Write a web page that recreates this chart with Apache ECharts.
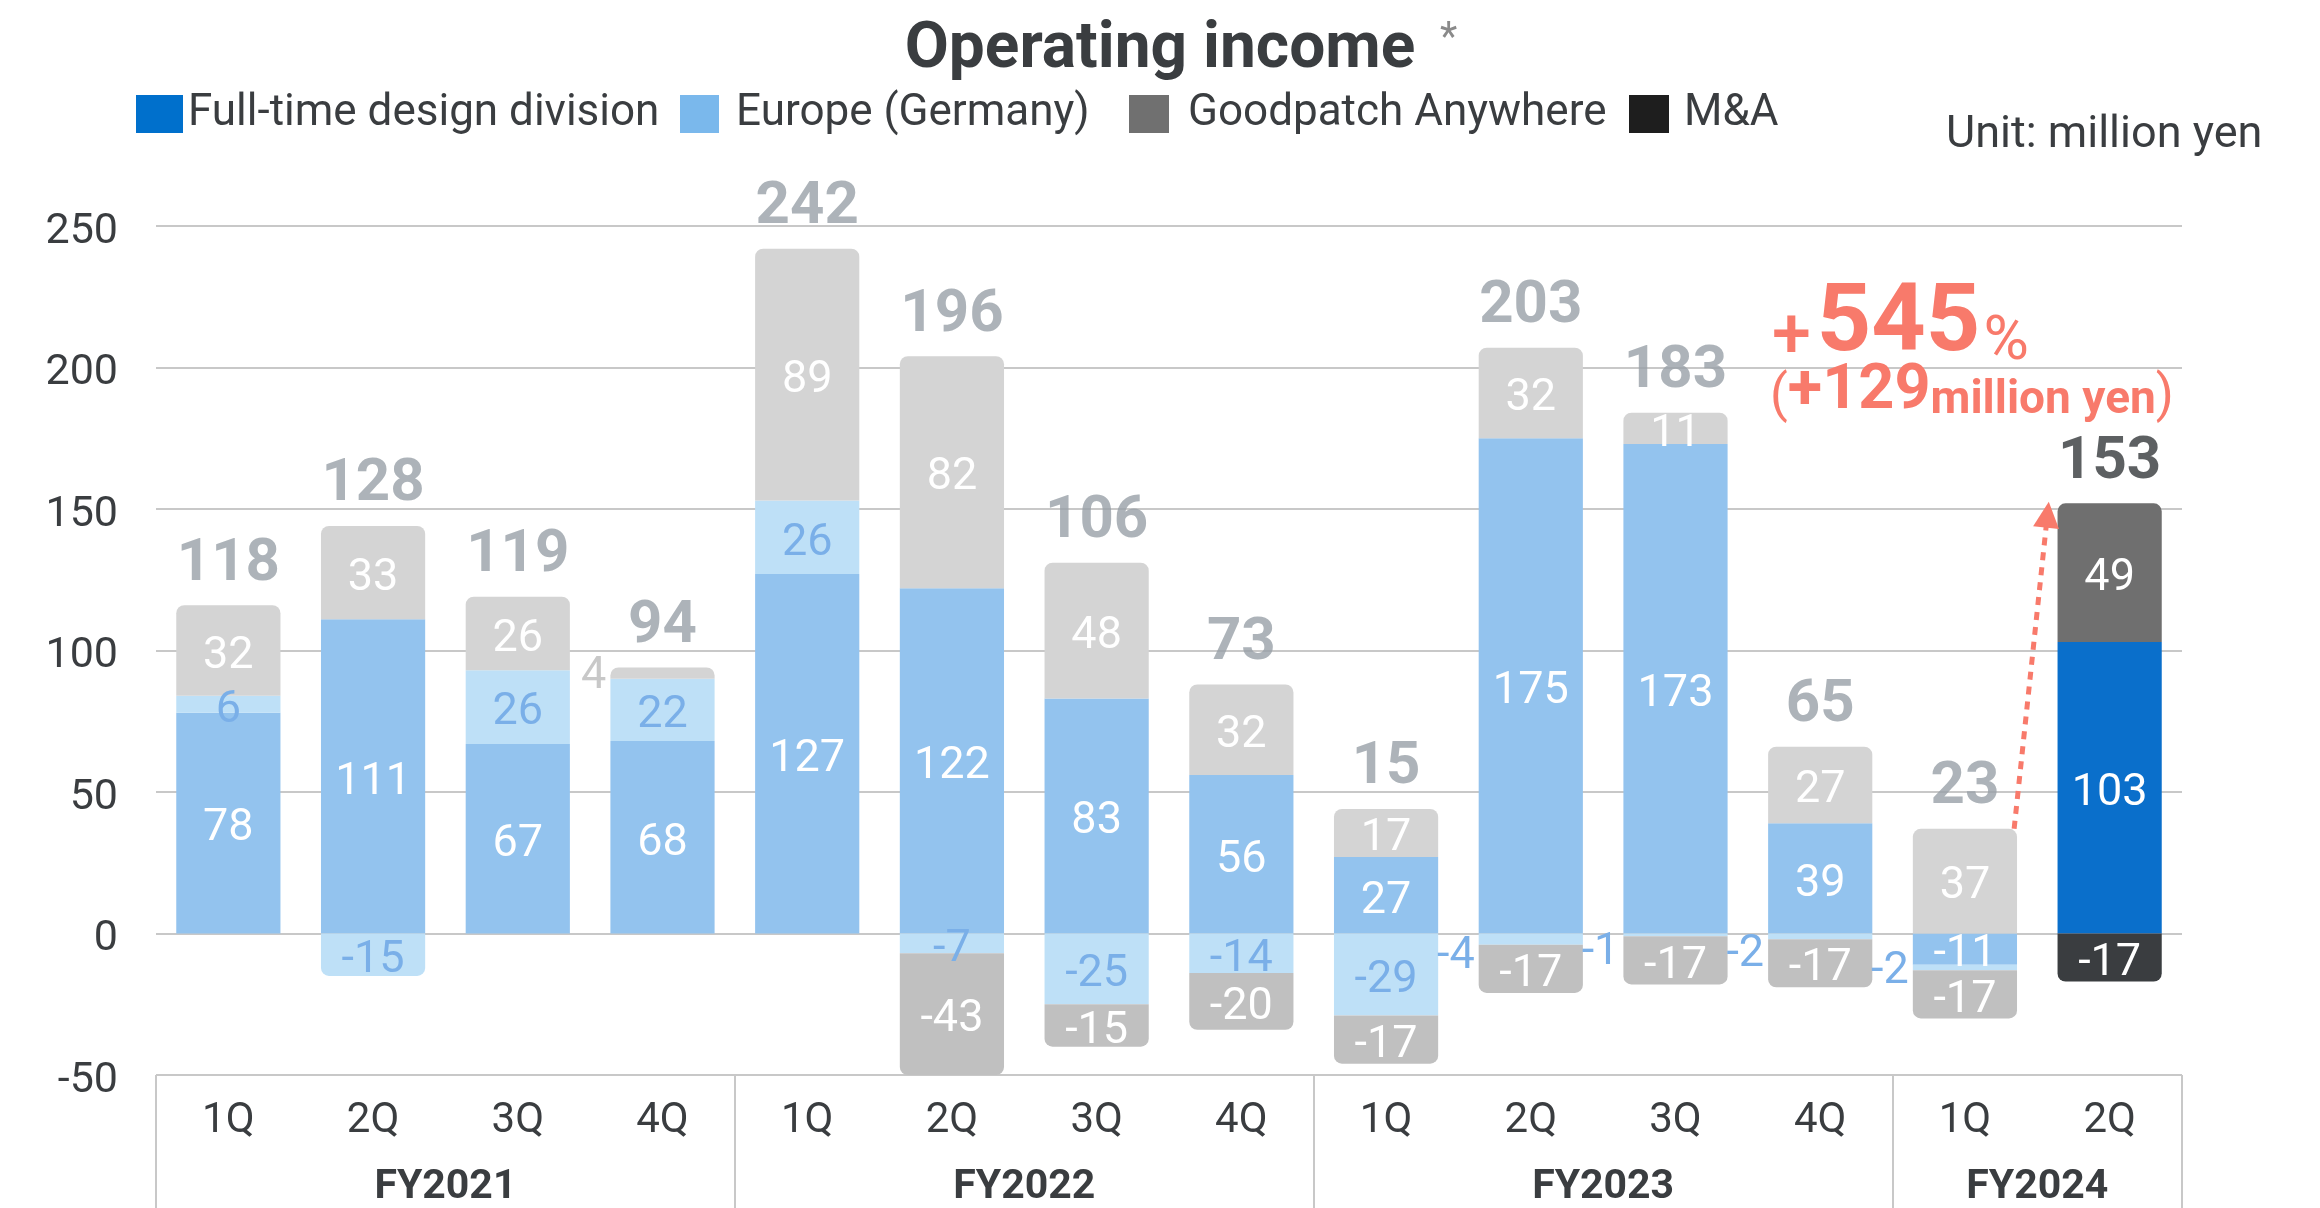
<!DOCTYPE html>
<html>
<head>
<meta charset="utf-8">
<title>Operating income</title>
<script src="https://cdn.jsdelivr.net/npm/echarts@6/dist/echarts.min.js"></script>
<style>
  html, body { margin: 0; padding: 0; background: #fff; }
  #chart { width: 2320px; height: 1208px; }
</style>
</head>
<body>
<div id="chart"></div>
<script>
// quarters on the x axis, grouped by fiscal year
const quarters = ['1Q', '2Q', '3Q', '4Q', '1Q', '2Q', '3Q', '4Q', '1Q', '2Q', '3Q', '4Q', '1Q', '2Q']
const fiscalYears = ['FY2021', 'FY2022', 'FY2023', 'FY2024']
const quartersPerYear = [4, 4, 4, 2]

// segment values (million yen), null = no segment
const fullTime = [78, 111, 67, 68, 127, 122, 83, 56, 27, 175, 173, 39, -11, 103]
const europe = [6, -15, 26, 22, 26, -7, -25, -14, -29, -4, -1, -2, -2, null]
const anywhere = [32, 33, 26, 4, 89, 82, 48, 32, 17, 32, 11, 27, 37, 49]
const mna = [null, null, null, null, null, -43, -15, -20, -17, -17, -17, -17, -17, -17]
const totals = [118, 128, 119, 94, 242, 196, 106, 73, 15, 203, 183, 65, 23, 153]

const seriesNames = ['Full-time design division', 'Europe (Germany)', 'Goodpatch Anywhere', 'M&A']

// growth callout: +545% (+129 million yen), arrow in (quarter position, value)
const growthPct = 545
const growthAmount = 129
const arrowFrom = [12.84, 37]
const arrowTo = [13.07, 148]

const FONT = 'Roboto, "Noto Sans", sans-serif'
const C = {
  text: '#3a3d40',
  grid: '#c8c8c8',
  total: '#99a0a7',
  accent: '#f87a6b'
}

const lastIdx = quarters.length - 1
const stackOrder = [fullTime, europe, anywhere, mna]

const topPositive = i => {
  let k = -1
  stackOrder.forEach((arr, j) => { if (arr[i] > 0) k = j })
  return k
}
const bottomNegative = i => {
  let k = -1
  stackOrder.forEach((arr, j) => { if (arr[i] < 0) k = j })
  return k
}

// fiscal year boundaries and centres on a 0..14 value scale
const fyBounds = [0]
quartersPerYear.forEach(n => fyBounds.push(fyBounds[fyBounds.length - 1] + n))
const fyCenters = fiscalYears.map((_, k) => (fyBounds[k] + fyBounds[k + 1]) / 2)

const makeSeries = (sIdx, values, col) => ({
  name: seriesNames[sIdx],
  type: 'bar',
  stack: 'income',
  barCategoryGap: '28%',
  itemStyle: { color: col.legend },
  label: {
    show: true,
    position: 'inside',
    color: col.label,
    fontSize: 45,
    fontFamily: FONT,
    offset: [0, 6]
  },
  emphasis: { disabled: true },
  data: values.map((v, i) => {
    if (v == null) return '-'
    let r = [0, 0, 0, 0]
    if (v > 0 && topPositive(i) === sIdx) r = [8, 8, 0, 0]
    if (v < 0 && bottomNegative(i) === sIdx) r = [0, 0, 8, 8]
    const item = {
      value: v,
      itemStyle: { color: i === lastIdx ? col.current : col.faded, borderRadius: r }
    }
    // tiny segments get their number beside the bar
    if (Math.abs(v) <= 4) {
      item.label = {
        position: 'left',
        distance: 4,
        color: col.small,
        offset: [0, fullTime[i] > 0 && v < 0 ? 18 : 4]
      }
    }
    return item
  })
})

const positiveTops = quarters.map((_, i) =>
  stackOrder.reduce((s, arr) => s + (arr[i] > 0 ? arr[i] : 0), 0))

const chart = echarts.init(document.getElementById('chart'))

const legendPos = [
  { left: 136, w: 47, pad: 0 },
  { left: 680, w: 39, pad: 12 },
  { left: 1129, w: 40, pad: 14 },
  { left: 1629, w: 40, pad: 10 }
]

chart.setOption({
  animation: false,
  backgroundColor: '#fff',
  textStyle: { fontFamily: FONT },
  title: [
    {
      text: 'Operating income',
      left: 'center',
      top: 19,
      padding: 0,
      textStyle: { fontSize: 64, fontWeight: 'bold', color: C.text, fontFamily: FONT }
    },
    {
      text: '*',
      left: 1440,
      top: 20,
      padding: 0,
      textStyle: { fontSize: 40, fontWeight: 'normal', color: '#8a8a8a', fontFamily: FONT }
    },
    {
      text: 'Unit: million yen',
      left: 1946,
      top: 113,
      padding: 0,
      textStyle: { fontSize: 45, fontWeight: 'normal', color: C.text, fontFamily: FONT }
    },
    {
      text: '{p|+}{n|' + growthPct + '}{s|%}',
      left: 1772,
      top: 279,
      padding: 0,
      textStyle: {
        rich: {
          p: { fontSize: 70, fontWeight: 500, color: C.accent, fontFamily: FONT, lineHeight: 70, verticalAlign: 'bottom', padding: [0, 6, 0, 0] },
          n: { fontSize: 95, fontWeight: 'bold', color: C.accent, fontFamily: FONT, lineHeight: 95, verticalAlign: 'bottom' },
          s: { fontSize: 62, fontWeight: 'normal', color: C.accent, fontFamily: FONT, lineHeight: 62, verticalAlign: 'bottom', padding: [0, 0, 0, 3] }
        }
      }
    },
    {
      text: '{a|(}{b|+' + growthAmount + '}{c|million yen}{a|)}',
      left: 1770,
      top: 361,
      padding: 0,
      textStyle: {
        rich: {
          a: { fontSize: 52, fontWeight: 'normal', color: C.accent, fontFamily: FONT, lineHeight: 56, verticalAlign: 'bottom' },
          b: { fontSize: 63, fontWeight: 'bold', color: C.accent, fontFamily: FONT, lineHeight: 63, verticalAlign: 'bottom' },
          c: { fontSize: 46, fontWeight: 'bold', color: C.accent, fontFamily: FONT, lineHeight: 46, verticalAlign: 'bottom' }
        }
      }
    }
  ],
  legend: legendPos.map((l, k) => ({
    data: [seriesNames[k]],
    left: l.left,
    top: 92,
    padding: 0,
    itemWidth: l.w,
    itemHeight: 38,
    icon: 'rect',
    selectedMode: false,
    textStyle: { fontSize: 44, color: C.text, fontFamily: FONT, padding: [5, 0, 0, l.pad] }
  })),
  grid: { left: 156, right: 138, top: 226, bottom: 133, containLabel: false },
  xAxis: [
    {
      type: 'category',
      data: quarters,
      axisLine: { show: false },
      axisTick: { show: false },
      axisLabel: { fontSize: 42, color: C.text, margin: 25, fontFamily: FONT }
    },
    {
      type: 'value',
      min: 0,
      max: quarters.length,
      position: 'bottom',
      axisLine: { show: false },
      splitLine: { show: false },
      axisTick: {
        show: true,
        customValues: fyBounds,
        length: 133,
        lineStyle: { color: C.grid, width: 2 }
      },
      axisLabel: {
        customValues: fyCenters,
        formatter: v => fiscalYears[fyCenters.indexOf(v)] || '',
        fontSize: 41,
        fontWeight: 'bold',
        color: C.text,
        margin: 92,
        fontFamily: FONT
      }
    }
  ],
  yAxis: {
    type: 'value',
    min: -50,
    max: 250,
    interval: 50,
    axisLine: { show: false },
    axisTick: { show: false },
    axisLabel: {
      margin: 38,
      formatter: v => '{v|' + v + '}',
      rich: {
        v: { fontSize: 43, color: C.text, fontFamily: FONT, padding: [12, 0, 0, 0] }
      }
    },
    splitLine: { lineStyle: { color: C.grid, width: 2 } }
  },
  series: [
    makeSeries(0, fullTime, { legend: '#0070cc', current: '#0a6fcb', faded: '#93c3ee', label: '#fff', small: '#7aafe8' }),
    makeSeries(1, europe, { legend: '#7ab8ec', current: '#7ab8ec', faded: '#bee0f7', label: '#7aafe8', small: '#7aafe8' }),
    makeSeries(2, anywhere, { legend: '#707070', current: '#6f6f6f', faded: '#d4d4d4', label: '#fff', small: '#c8c8c8' }),
    makeSeries(3, mna, { legend: '#1e1e1e', current: '#3a3d40', faded: '#c0c0c0', label: '#fff', small: '#c0c0c0' }),
    {
      type: 'scatter',
      silent: true,
      symbolSize: 1,
      itemStyle: { color: 'rgba(0,0,0,0)' },
      z: 10,
      label: {
        show: true,
        position: 'top',
        distance: 10,
        fontSize: 60,
        fontWeight: 'bold',
        fontFamily: FONT,
        formatter: p => String(totals[p.dataIndex])
      },
      data: positiveTops.map((v, i) => ({
        value: v,
        label: { color: i === lastIdx ? '#35383b' : C.total }
      }))
    },
    {
      type: 'line',
      xAxisIndex: 1,
      data: [],
      silent: true,
      markLine: {
        silent: true,
        symbol: ['none', 'triangle'],
        symbolSize: 26,
        label: { show: false },
        lineStyle: { color: C.accent, width: 5, type: [8, 7] },
        data: [[{ coord: arrowFrom }, { coord: arrowTo }]]
      }
    }
  ]
})
</script>
</body>
</html>
